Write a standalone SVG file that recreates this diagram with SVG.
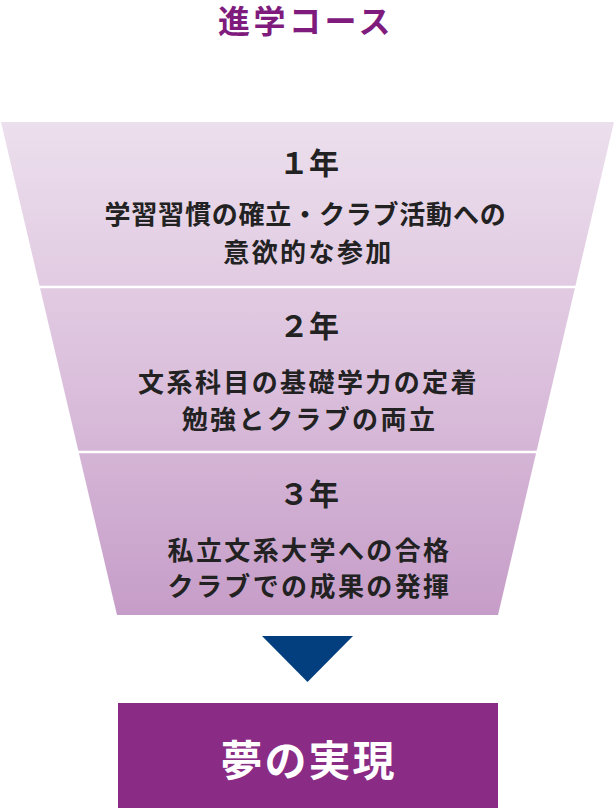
<svg xmlns="http://www.w3.org/2000/svg" width="616" height="808" viewBox="0 0 616 808">
<defs>
<linearGradient id="fg" x1="0" y1="122" x2="0" y2="615" gradientUnits="userSpaceOnUse">
<stop offset="0" stop-color="#ecdfed"/>
<stop offset="0.5" stop-color="#dcc1dd"/>
<stop offset="1" stop-color="#c69dc8"/>
</linearGradient>
<style>
text{font-family:"Noto Sans CJK JP","Noto Sans CJK SC",sans-serif;dominant-baseline:central;text-anchor:middle}
.h{font-size:30px;font-weight:700;fill:#222;letter-spacing:0px}
.b{font-size:26px;font-weight:700;fill:#222;letter-spacing:2.4px}
.sep{stroke:#fff;stroke-width:2.5}
</style>
</defs>
<text x="306" y="19" style="font-size:32px;font-weight:700;fill:#7e1b7d;letter-spacing:3.5px">進学コース</text>
<g id="funnel">
<polygon points="1,122 614,122 498,615 117,615" fill="url(#fg)"/>
<line class="sep" x1="0" y1="287" x2="616" y2="287"/>
<line class="sep" x1="0" y1="452" x2="616" y2="452"/>
</g>
<g id="year1">
<text class="h" x="309" y="161">１年</text>
<text class="b" x="305.5" y="212" style="letter-spacing:0.8px">学習習慣の確立・クラブ活動への</text>
<text class="b" x="308.5" y="250">意欲的な参加</text>
</g>
<g id="year2">
<text class="h" x="309" y="324">２年</text>
<text class="b" x="308.5" y="380">文系科目の基礎学力の定着</text>
<text class="b" x="309.5" y="417">勉強とクラブの両立</text>
</g>
<g id="year3">
<text class="h" x="309" y="492">３年</text>
<text class="b" x="309.5" y="548">私立文系大学への合格</text>
<text class="b" x="309.5" y="584">クラブでの成果の発揮</text>
</g>
<g id="connectors">
<polygon points="262,636 353,636 307.5,682" fill="#033f7e"/>
</g>
<g id="goal">
<rect x="118" y="703" width="380" height="105" fill="#8a2c85"/>
<text x="308.5" y="757" style="font-size:42px;font-weight:700;fill:#fff;letter-spacing:2px">夢の実現</text>
</g>
</svg>
